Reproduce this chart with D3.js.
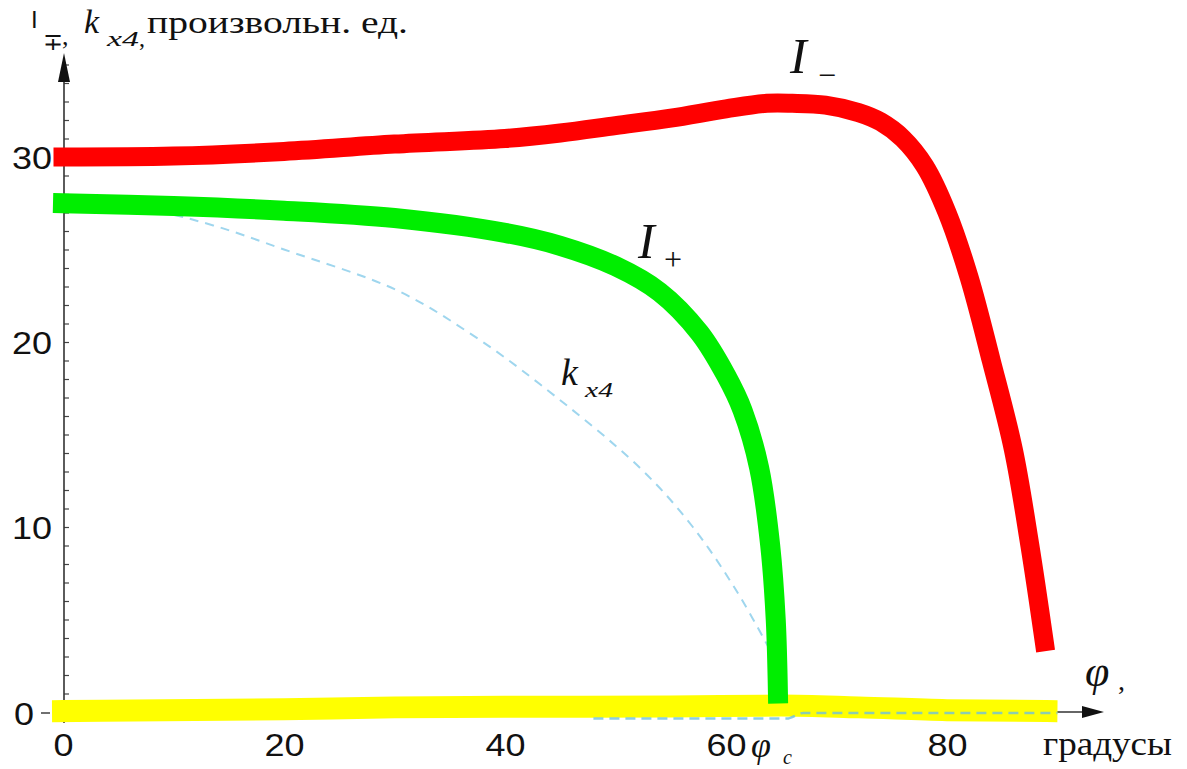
<!DOCTYPE html>
<html>
<head>
<meta charset="utf-8">
<script src="https://cdn.jsdelivr.net/npm/d3@7"></script>
<style>
  html, body { margin: 0; padding: 0; background: #fff; }
  svg { display: block; }
</style>
</head>
<body>
<svg id="chart" width="1187" height="769"></svg>
<script>
// Intensity of the two waves and the coupling coefficient vs. angle φ (degrees)
const redPhi   = [0, 10, 20, 30, 40, 45, 50, 55, 60, 63.7, 66, 69, 72, 74, 76, 78, 80, 82, 84, 86, 87.5, 88.8];
const redI     = [30.0, 30.05, 30.3, 30.7, 31.0, 31.3, 31.7, 32.1, 32.6, 32.9, 32.9, 32.8, 32.4, 31.9, 31.0, 29.5, 27.0, 23.5, 19.0, 14.2, 9.0, 3.8];

const greenPhi = [0, 10, 20, 30, 40, 45, 50, 54, 57.6, 60, 61.5, 63, 64, 64.5, 64.7];
const greenI   = [27.5, 27.35, 27.1, 26.7, 25.9, 25.2, 24.1, 22.7, 20.5, 18.2, 16.3, 13.2, 9.0, 5.0, 1.0];

const kPhi     = [0, 8, 13.6, 20, 30.2, 37, 43.2, 52.2, 57, 61, 64.3];
const kVal     = [27.4, 27.1, 26.3, 25.0, 22.8, 20.4, 17.7, 13.2, 10.0, 6.5, 3.0];

const lowPhi   = [48, 65.5, 67, 90];
const lowVal   = [-0.35, -0.35, -0.05, -0.05];

const yelPhi   = [0, 20, 30, 40, 55, 65, 72, 80, 89];
const yelVal   = [0.05, 0.15, 0.25, 0.28, 0.3, 0.35, 0.25, 0.1, 0.05];

const xTickValues = [0, 20, 40, 60, 80];
const yTickValues = [0, 10, 20, 30];

const svg = d3.select("#chart");

const x = d3.scaleLinear().domain([0, 90]).range([63, 1057.5]);
const y = d3.scaleLinear().domain([0, 30]).range([712, 157]);

const SANS = "'Liberation Sans', Arial, sans-serif";
const SERIF = "'Liberation Serif', 'Times New Roman', serif";
const STRETCH = 1.16;

// widen glyphs horizontally
function stretch(sel, f) {
  sel.each(function () {
    const w = this.getComputedTextLength();
    d3.select(this).attr("textLength", w * (f || STRETCH)).attr("lengthAdjust", "spacingAndGlyphs");
  });
  return sel;
}

const zip = (a, b) => a.map((v, i) => [v, b[i]]);

// ---- axes ----
const axes = svg.append("g");

// y axis with minor ticks every unit
const yMinor = axes.append("g")
  .attr("transform", `translate(${x(0) + 1},0)`)
  .call(d3.axisRight(y).tickValues(d3.range(0, 36, 1)).tickSize(5).tickFormat(""));
yMinor.select(".domain").remove();
yMinor.selectAll("line").attr("stroke", "#444").attr("stroke-width", 1.2);

// axis lines with arrow heads
axes.append("line").attr("x1", x(0) + 1).attr("x2", x(0) + 1).attr("y1", 723).attr("y2", 70)
  .attr("stroke", "#333").attr("stroke-width", 1.6);
axes.append("path")
  .attr("d", `M${x(0) + 1},53 L${x(0) - 5},82 L${x(0) + 7},82 Z`).attr("fill", "#111");

axes.append("line").attr("x1", x(0)).attr("x2", 1090).attr("y1", y(0)).attr("y2", y(0))
  .attr("stroke", "#333").attr("stroke-width", 1.6);
axes.append("path")
  .attr("d", `M1104,${y(0)} L1082,${y(0) - 6} L1082,${y(0) + 6} Z`).attr("fill", "#111");

// zero tick on the left
axes.append("line").attr("x1", 41).attr("x2", 50).attr("y1", y(0) + 1).attr("y2", y(0) + 1)
  .attr("stroke", "#333").attr("stroke-width", 1.4);

// tick labels
const yLab = axes.append("g")
  .attr("transform", `translate(52,0)`)
  .call(d3.axisLeft(y).tickValues(yTickValues).tickSize(0).tickPadding(0).tickFormat(d3.format("d")));
yLab.select(".domain").remove();
yLab.selectAll("text")
  .attr("font-family", SANS).attr("font-size", 31).attr("fill", "#111")
  .attr("dy", "0.36em");
yLab.selectAll(".tick").filter(d => d === 0).attr("transform", `translate(-18,${y(0) + 2})`);
stretch(yLab.selectAll("text"));

const xLab = axes.append("g")
  .attr("transform", `translate(0,${y(0)})`)
  .call(d3.axisBottom(x).tickValues(xTickValues).tickSize(0).tickPadding(22).tickFormat(d3.format("d")));
xLab.select(".domain").remove();
xLab.selectAll("text")
  .attr("font-family", SANS).attr("font-size", 31).attr("fill", "#111");
stretch(xLab.selectAll("text"));

// ---- curves ----
const smooth = d3.line().x(d => x(d[0])).y(d => y(d[1])).curve(d3.curveCatmullRom.alpha(0.5));
const flat = d3.line().x(d => x(d[0])).y(d => y(d[1])).curve(d3.curveMonotoneX);
const plot = svg.append("g");

plot.append("path").datum(zip(yelPhi, yelVal)).attr("d", flat)
  .attr("fill", "none").attr("stroke", "#ffff00").attr("stroke-width", 22).attr("stroke-linecap", "square");

plot.append("path").datum(zip(kPhi, kVal)).attr("d", smooth)
  .attr("fill", "none").attr("stroke", "#9fd6ee").attr("stroke-width", 2)
  .attr("stroke-dasharray", "9,7");

plot.append("path").datum(zip(lowPhi, lowVal)).attr("d", flat)
  .attr("fill", "none").attr("stroke", "#6fc0dc").attr("stroke-opacity", 0.8).attr("stroke-width", 2.5)
  .attr("stroke-dasharray", "10,6");

plot.append("path").datum(zip(redPhi, redI)).attr("d", smooth)
  .attr("fill", "none").attr("stroke", "#ff0000").attr("stroke-width", 19)
  .attr("stroke-linecap", "square").attr("stroke-linejoin", "round");

plot.append("path").datum(zip(greenPhi, greenI)).attr("d", smooth)
  .attr("fill", "none").attr("stroke", "#00ee00").attr("stroke-width", 20)
  .attr("stroke-linecap", "square").attr("stroke-linejoin", "round");

// ---- text labels ----
const txt = svg.append("g").attr("fill", "#111");
function put(s, px, py, size, opts = {}) {
  const t = txt.append("text").attr("x", px).attr("y", py)
    .attr("font-family", opts.family || SERIF).attr("font-size", size)
    .attr("font-style", opts.italic ? "italic" : "normal")
    .attr("font-weight", opts.bold ? "bold" : "normal")
    .text(s);
  if (opts.width) t.attr("textLength", opts.width).attr("lengthAdjust", "spacingAndGlyphs");
  return t;
}

// vertical axis title
put("I", 31, 28, 24, { family: SANS });
put("∓", 43, 50, 24);
put(",", 62, 45, 26);
put("k", 84, 33, 34, { italic: true });
put("x4", 107, 46, 22, { italic: true, width: 32 });
put(",", 139, 46, 24);
put("произвольн. ед.", 147, 33, 31, { width: 261 });

// horizontal axis title
put("φ", 1085, 686, 44, { italic: true });
put(",", 1118, 690, 28);
put("градусы", 1043, 755, 33, { width: 129 });

// critical angle
put("φ", 751, 757, 36, { italic: true });
put("c", 783, 764, 20, { italic: true });

// curve labels
put("I", 790, 73, 50, { italic: true });
put("−", 818, 86, 32);
put("I", 638, 258, 50, { italic: true });
put("+", 664, 270, 32);
put("k", 561, 385, 38, { italic: true });
put("x4", 585, 397, 20, { italic: true, width: 28 });
</script>
</body>
</html>
